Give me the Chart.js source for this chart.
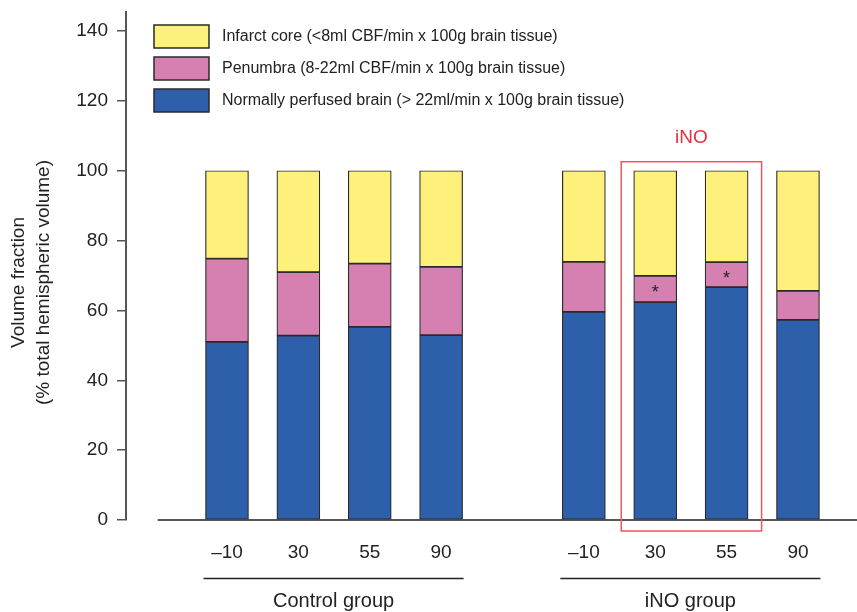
<!DOCTYPE html>
<html><head><meta charset="utf-8">
<script src="https://cdn.jsdelivr.net/npm/chart.js@4/dist/chart.umd.min.js"></script>
<style>html,body{margin:0;padding:0;background:#fff}#wrap{width:857px;height:612px;position:relative}</style>
</head><body><div id="wrap"><canvas id="c" width="857" height="612"></canvas></div>
<script>
// ---- data ----
const timeLabels = ['–10', '30', '55', '90'];
const groupNames = ['Control group', 'iNO group'];
const normalPerfused = [51.0, 52.8, 55.3, 52.9, 59.6, 62.4, 66.7, 57.3];
const penumbra = [23.8, 18.2, 18.1, 19.6, 14.3, 7.5, 7.1, 8.3];
const infarctCore = [25.2, 29.0, 26.6, 27.5, 26.1, 30.1, 26.2, 34.4];
const yTicks = [0, 20, 40, 60, 80, 100, 120, 140];
const seriesNames = [
  'Normally perfused brain (> 22ml/min x 100g brain tissue)',
  'Penumbra (8-22ml CBF/min x 100g brain tissue)',
  'Infarct core (<8ml CBF/min x 100g brain tissue)'
];
const starredBars = [5, 6];
const boxedBars = [5, 6];
const boxLabel = 'iNO';
const yTitle = ['Volume fraction', '(% total hemispheric volume)'];

// category slots: 4 bars, one empty slot, 4 bars
const slots = [];
const tickText = {};
groupNames.forEach((g, gi) => timeLabels.forEach((t, ti) => {
  const s = gi * (timeLabels.length + 1) + ti + 1;
  slots.push(s); tickText[s] = t;
}));

const COLORS = ['#2E5FAA', '#D680B1', '#FDF07B'];
const EDGE = '#2a2a2a';
const AXIS = '#555';
const FONT = '"Liberation Sans", Arial, Helvetica, sans-serif';
const BARW = 43;

const overlay = {
  id: 'overlay',
  beforeDatasetsDraw(chart) {
    const {ctx, scales: {x, y}, chartArea} = chart;
    ctx.save();
    ctx.strokeStyle = AXIS; ctx.lineWidth = 2;
    ctx.beginPath();
    const y0 = y.getPixelForValue(0);
    ctx.moveTo(x.getPixelForValue(0) + 2, y0); ctx.lineTo(chartArea.right, y0);
    ctx.stroke();
    ctx.restore();
  },
  afterDraw(chart) {
    const {ctx, scales: {x, y}} = chart;
    ctx.save();
    // group lines + labels
    groupNames.forEach((g, gi) => {
      const first = slots[gi * timeLabels.length];
      const last = slots[gi * timeLabels.length + timeLabels.length - 1];
      const l = x.getPixelForValue(first) - BARW / 2 - 2;
      const r = x.getPixelForValue(last) + BARW / 2 + 1;
      ctx.strokeStyle = '#222'; ctx.lineWidth = 1.3;
      ctx.beginPath(); ctx.moveTo(l, 578.5); ctx.lineTo(r, 578.5); ctx.stroke();
      ctx.fillStyle = '#222'; ctx.font = '20px ' + FONT;
      ctx.textAlign = 'center'; ctx.textBaseline = 'middle';
      ctx.fillText(g, (l + r) / 2, 601);
    });
    // highlight box
    const bl = x.getPixelForValue(slots[boxedBars[0]]) - BARW / 2 - 12.5;
    const br = x.getPixelForValue(slots[boxedBars[boxedBars.length - 1]]) + BARW / 2 + 13.5;
    const bt = y.getPixelForValue(100) - 9;
    const bb = y.getPixelForValue(0) + 11;
    ctx.strokeStyle = '#EE5560'; ctx.lineWidth = 1.5;
    ctx.strokeRect(bl, bt, br - bl, bb - bt);
    ctx.fillStyle = '#E8303F'; ctx.font = '19px ' + FONT;
    ctx.textAlign = 'center'; ctx.textBaseline = 'middle';
    ctx.fillText(boxLabel, (bl + br) / 2, 138);
    // asterisks in penumbra segments
    const meta = chart.getDatasetMeta(1);
    ctx.fillStyle = '#222'; ctx.font = '18px ' + FONT;
    starredBars.forEach(i => {
      const el = meta.data[i];
      ctx.fillText('*', el.x, (el.y + el.base) / 2 + 4);
    });
    // legend (top to bottom: infarct, penumbra, normal)
    ctx.font = '16px ' + FONT; ctx.textAlign = 'left';
    [2, 1, 0].forEach((d, k) => {
      const top = 25 + k * 32;
      ctx.fillStyle = COLORS[d];
      ctx.fillRect(154, top, 55, 23);
      ctx.strokeStyle = EDGE; ctx.lineWidth = 1.5;
      ctx.strokeRect(154, top, 55, 23);
      ctx.fillStyle = '#222';
      ctx.fillText(chart.data.datasets[d].label, 222, top + 12);
    });
    // y title
    const cy = y.getPixelForValue(68);
    ctx.font = '19px ' + FONT; ctx.textAlign = 'center'; ctx.fillStyle = '#222';
    [19, 44].forEach((cx, i) => {
      ctx.save(); ctx.translate(cx, cy); ctx.rotate(-Math.PI / 2);
      ctx.fillText(yTitle[i], 0, 0); ctx.restore();
    });
    ctx.restore();
  }
};

const mk = (data, i) => ({
  label: seriesNames[i], data, backgroundColor: COLORS[i], borderColor: EDGE,
  borderWidth: 1.2, borderSkipped: false, barThickness: BARW, stack: 's'
});

new Chart(document.getElementById('c'), {
  type: 'bar',
  data: {
    labels: slots,
    datasets: [mk(normalPerfused, 0), mk(penumbra, 1), mk(infarctCore, 2)]
  },
  options: {
    responsive: false, animation: false, devicePixelRatio: 1,
    layout: {padding: {top: 12, right: 0, bottom: 0, left: 0}},
    plugins: {legend: {display: false}, tooltip: {enabled: false}},
    scales: {
      x: {
        type: 'linear', stacked: true, offset: false, min: -0.415, max: 9.827,
        afterBuildTicks: s => { s.ticks = slots.map(v => ({value: v})); },
        afterFit: s => { s.height = 92; s.paddingLeft = 0; s.paddingRight = 0; },
        grid: {display: false, offset: false}, border: {display: false},
        ticks: {callback: v => tickText[v] || '', font: {size: 19, family: FONT}, color: '#222', padding: 13, maxRotation: 0, autoSkip: false}
      },
      y: {
        stacked: true, min: 0, max: 145.44,
        afterBuildTicks: s => { s.ticks = yTicks.map(v => ({value: v})); },
        afterFit: s => { s.width = 126; s.paddingTop = 0; s.paddingBottom = 0; },
        grid: {drawOnChartArea: false, drawTicks: true, tickLength: 9, color: AXIS, lineWidth: 1.5},
        border: {display: true, color: AXIS, width: 2},
        ticks: {font: {size: 19, family: FONT}, color: '#222', padding: 9}
      }
    }
  },
  plugins: [overlay]
});
</script></body></html>
